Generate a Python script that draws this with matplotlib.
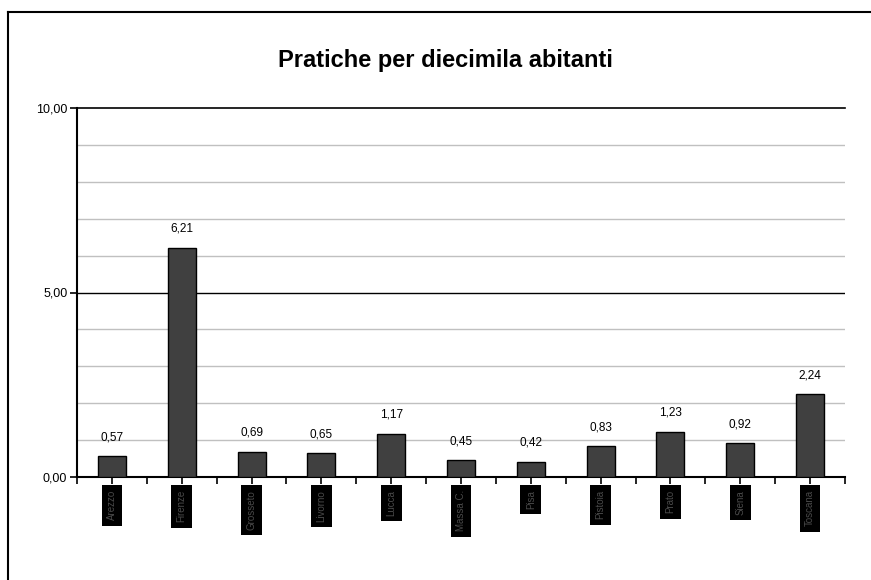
import matplotlib.pyplot as plt
import numpy as np
from matplotlib.ticker import MultipleLocator, FuncFormatter

plt.rcParams['font.family'] = ['Liberation Sans', 'DejaVu Sans']

# labels are unreadable in the source picture (rendered as dark boxes)
categories = ['Arezzo', 'Firenze', 'Grosseto', 'Livorno', 'Lucca', 'Massa C.',
              'Pisa', 'Pistoia', 'Prato', 'Siena', 'Toscana']
values = [0.57, 6.21, 0.69, 0.65, 1.17, 0.45, 0.42, 0.83, 1.23, 0.92, 2.24]
title = 'Pratiche per diecimila abitanti'


def it_fmt(v, pos=None):
    return '{:.2f}'.format(v).replace('.', ',')


fig = plt.figure(figsize=(8.71, 5.80), dpi=100)
ax = fig.add_axes([77 / 871, 1 - 477 / 580, (845 - 77) / 871, (477 - 108) / 580])

x = np.arange(len(values))
bars = ax.bar(x, values, width=0.4, color='#404040', edgecolor='black', linewidth=1, zorder=3)

for xi, v in zip(x, values):
    ax.text(xi, v + 0.35, it_fmt(v), ha='center', va='bottom', fontsize=8.5, zorder=4)

ax.set_xlim(-0.5, len(values) - 0.5)
ax.set_ylim(0, 10)

# gridlines: light every unit, black at the major ticks
for g in range(1, 10):
    if g == 5:
        continue
    ax.axhline(g, color='#c0c0c0', linewidth=1, zorder=1)
ax.axhline(5, color='black', linewidth=1, zorder=2)
ax.axhline(10, color='black', linewidth=1.2, zorder=2, clip_on=False)

ax.yaxis.set_major_locator(MultipleLocator(5))
ax.yaxis.set_major_formatter(FuncFormatter(it_fmt))
ax.tick_params(axis='y', direction='out', length=5, width=1.2, labelsize=9, pad=2)

ax.set_xticks(x)
ax.set_xticklabels([])
ax.set_xticks(np.arange(-0.5, len(values), 1), minor=True)
ax.tick_params(axis='x', which='both', direction='out', length=5, width=1.2)

for side in ['top', 'right']:
    ax.spines[side].set_visible(False)
ax.spines['left'].set_linewidth(1.5)
ax.spines['bottom'].set_linewidth(1.5)

# category labels: tiny dark text on black boxes, rotated
for xi, name in zip(x, categories):
    ax.annotate(name, xy=(xi, 0), xycoords='data', xytext=(0, -9.5), textcoords='offset points',
                rotation=90, ha='center', va='top', fontsize=7, color='#4a4a4a',
                bbox=dict(boxstyle='square,pad=0.55', facecolor='black', edgecolor='none'),
                annotation_clip=False)

fig.text(445 / 871, 1 - 60 / 580, title, ha='center', va='center', fontsize=17, fontweight='bold')

# outer frame (only left and top visible)
fig.add_artist(plt.Line2D([8 / 871, 8 / 871], [0, 1 - 12 / 580], color='black', linewidth=1.5,
                          transform=fig.transFigure))
fig.add_artist(plt.Line2D([8 / 871, 1], [1 - 12 / 580, 1 - 12 / 580], color='black', linewidth=1.5,
                          transform=fig.transFigure))

fig.savefig('out.png', dpi=100)
